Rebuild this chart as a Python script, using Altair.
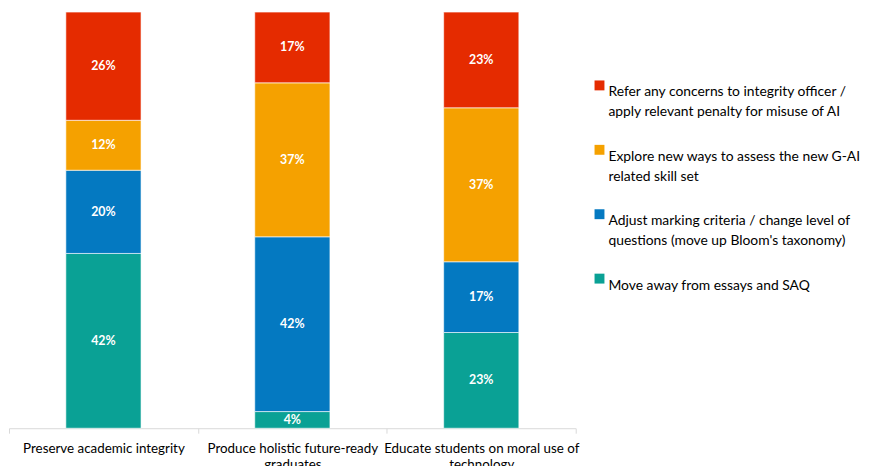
import altair as alt
import pandas as pd

categories = [
    "Preserve academic integrity",
    "Produce holistic future-ready\ngraduates",
    "Educate students on moral use of\ntechnology",
]
series = [
    "Move away from essays and SAQ",
    "Adjust marking criteria / change level of\nquestions (move up Bloom's taxonomy)",
    "Explore new ways to assess the new G-AI\nrelated skill set",
    "Refer any concerns to integrity officer /\napply relevant penalty for misuse of AI",
]
colors = ["#0AA195", "#0479C1", "#F5A100", "#E52B00"]
values = [
    [42, 4, 23],   # teal
    [20, 42, 17],  # blue
    [12, 37, 37],  # orange
    [26, 17, 23],  # red
]

rows = []
for si, s in enumerate(series):
    for ci, c in enumerate(categories):
        rows.append({"cat": c, "series": s, "order": si, "value": values[si][ci]})
df = pd.DataFrame(rows)

FONT = "Lato"

base = alt.Chart(df).transform_stack(
    stack="value", groupby=["cat"], as_=["y0", "y1"],
    sort=[alt.SortField("order", order="ascending")],
).transform_calculate(
    mid="(datum.y0 + datum.y1) / 2",
    lbl="datum.value + '%'",
)

x_enc = alt.X(
    "cat:N", sort=categories, title=None,
    scale=alt.Scale(paddingInner=0, paddingOuter=0),
    axis=alt.Axis(
        labelExpr="split(datum.label, '\\n')",
        labelAngle=0, labelFont=FONT, labelFontSize=13.5, labelColor="#000000",
        labelLineHeight=16, labelPadding=9, labelLimit=300,
        tickBand="extent", tickSize=5, tickColor="#D9D9D9",
        domainColor="#D9D9D9", domainWidth=1, labelBaseline="top",
    ),
)

y_scale = alt.Scale(domain=[0, 100], nice=False)

bars = base.mark_bar(
    width=alt.RelativeBandSize(0.398), stroke="white", strokeWidth=0.6
).encode(
    x=x_enc,
    y=alt.Y("y0:Q", scale=y_scale, axis=None),
    y2="y1:Q",
    color=alt.Color(
        "series:N",
        scale=alt.Scale(domain=series[::-1], range=colors[::-1]),
        legend=alt.Legend(
            title=None, orient="none", legendX=589, legendY=67,
            symbolType="square", symbolSize=100, symbolStrokeWidth=0,
            labelFont=FONT, labelFontSize=14, labelColor="#000000",
            labelExpr="split(datum.label + (indexof(datum.label, '\\n') < 0 ? '\\n ' : ''), '\\n')",
            labelLimit=400, labelOffset=2, rowPadding=24, labelBaseline="top",
        ),
        sort=series[::-1],
    ),
    order=alt.Order("order:Q"),
)

labels = base.mark_text(
    color="white", font=FONT, fontWeight="bold", fontSize=12.5, baseline="middle"
).encode(
    x=alt.X("cat:N", sort=categories),
    y=alt.Y("mid:Q", scale=y_scale),
    text="lbl:N",
)

chart = alt.layer(bars, labels).properties(
    width=572, height=420,
    autosize=alt.AutoSizeParams(type="none"),
    padding={"left": 1, "top": 2, "right": 294, "bottom": 36},
)
chart.config = alt.Config(
    view=alt.ViewConfig(stroke=None),
    style={"guide-label": {"lineHeight": 20}},
)

chart.save("out.html", embed_options={"renderer": "svg", "actions": False})
